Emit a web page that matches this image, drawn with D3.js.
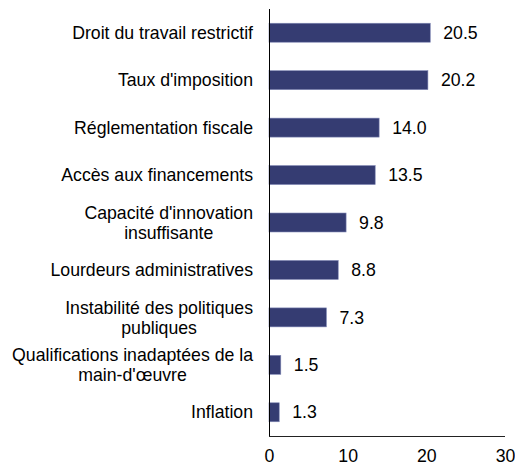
<!DOCTYPE html>
<html>
<head>
<meta charset="utf-8">
<script src="https://cdn.jsdelivr.net/npm/d3@7"></script>
<style>
  body { margin: 0; background: #fff; }
  text { font-family: "Liberation Sans", Arial, sans-serif; fill: #000; }
</style>
</head>
<body>
<svg id="vis"></svg>
<script>
// labels, one entry per line of text
const categories = [
  ['Droit du travail restrictif'],
  ["Taux d'imposition"],
  ['Réglementation fiscale'],
  ['Accès aux financements'],
  ["Capacité d'innovation", 'insuffisante'],
  ['Lourdeurs administratives'],
  ['Instabilité des politiques', 'publiques'],
  ['Qualifications inadaptées de la', "main-d'œuvre"],
  ['Inflation']
]
const values = [20.5, 20.2, 14.0, 13.5, 9.8, 8.8, 7.3, 1.5, 1.3]
const xTicks = [0, 10, 20, 30]

const W = 515, H = 463
const margin = {left: 269, top: 9, right: 10, bottom: 27}
const fontSize = 17.7

const svg = d3.select('#vis').attr('width', W).attr('height', H)

const x = d3.scaleLinear()
  .domain([0, 30])
  .range([margin.left, 505])

const y = d3.scaleBand()
  .domain(d3.range(categories.length))
  .range([margin.top, H - margin.bottom])
  .paddingInner(0.6)
  .paddingOuter(0.3)

// bars
svg.selectAll('.bar')
  .data(values)
  .join('rect')
  .attr('class', 'bar')
  .attr('x', x(0))
  .attr('y', (d, i) => y(i))
  .attr('width', d => x(d) - x(0))
  .attr('height', y.bandwidth())
  .attr('fill', '#353c72')
  .attr('stroke', '#8088b5')
  .attr('stroke-width', 0.6)

// value labels
svg.selectAll('.val')
  .data(values)
  .join('text')
  .attr('class', 'val')
  .attr('x', d => x(d) + 13)
  .attr('y', (d, i) => y(i) + y.bandwidth() / 2)
  .attr('dy', '0.35em')
  .style('font-size', fontSize + 'px')
  .text(d => d.toFixed(1))

// category labels: block right-aligned, lines centred inside it
const labelRight = x(0) - 16
const lineH = 20
categories.forEach((lines, i) => {
  const g = svg.append('text')
    .style('font-size', fontSize + 'px')
    .attr('text-anchor', 'middle')
  const cy = y(i) + y.bandwidth() / 2
  const spans = lines.map((ln, j) => g.append('tspan')
    .attr('y', cy + (j - (lines.length - 1) / 2) * lineH)
    .attr('dy', '0.35em')
    .text(ln))
  const maxW = d3.max(spans, s => s.node().getComputedTextLength())
  spans.forEach(s => s.attr('x', labelRight - maxW / 2))
})

// x axis, no tick marks
const xAxis = d3.axisBottom(x)
  .tickValues(xTicks)
  .tickSize(0)
  .tickPadding(13)

svg.append('g')
  .attr('transform', 'translate(0,' + (H - margin.bottom) + ')')
  .call(xAxis)
  .call(g => g.select('.domain').attr('stroke', '#222').attr('d', 'M' + x(0) + ',0.5H' + x(30)))
  .selectAll('text')
    .style('font-size', fontSize + 'px')
    .style('font-family', '"Liberation Sans", Arial, sans-serif')
    .attr('fill', '#000')

// y axis line
svg.append('line')
  .attr('x1', x(0) + 0.5).attr('x2', x(0) + 0.5)
  .attr('y1', margin.top)
  .attr('y2', H - margin.bottom)
  .attr('stroke', '#000')
</script>
</body>
</html>
